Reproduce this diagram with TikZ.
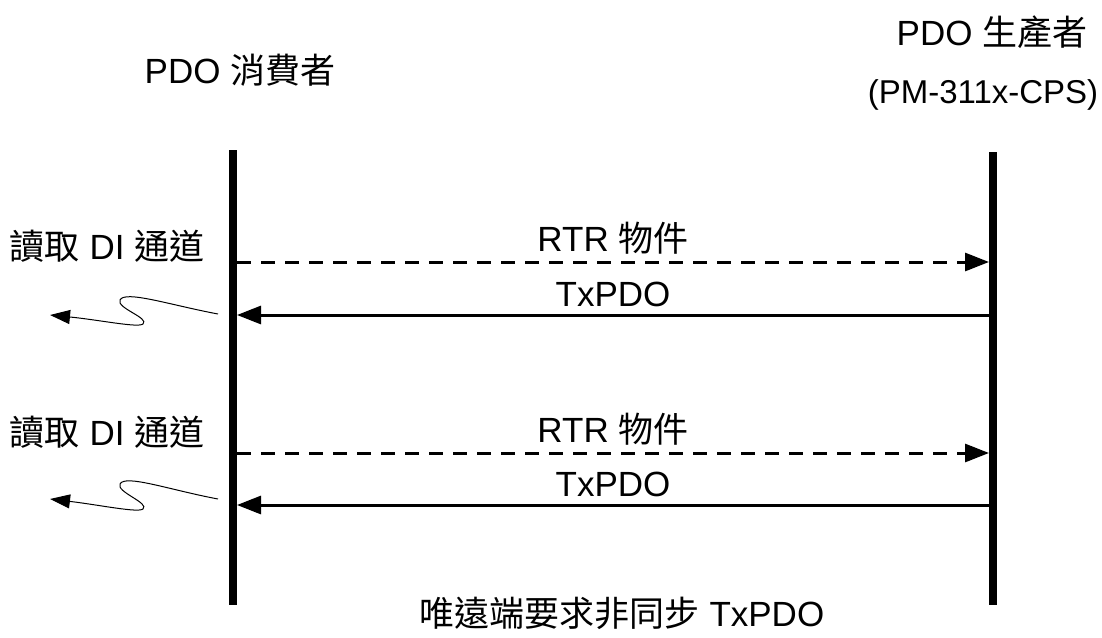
\documentclass[tikz,border=0pt]{standalone}
\usepackage{fontspec}
\setmainfont{Liberation Sans}
\newfontfamily\cjk{Noto Sans CJK TC}
\usetikzlibrary{arrows.meta,positioning}
\tikzset{
    lifeline/.style={line width=4pt},
    request/.style={dashed, line width=1.5pt, dash pattern=on 7pt off 5pt, -{Triangle[length=12pt,width=9pt]}},
    reply/.style={line width=1.5pt, -{Triangle[length=12pt,width=9pt]}},
    wiggle/.style={line width=0.5pt, -{Triangle[length=10pt,width=7pt]}},
    lbl/.style={font=\fontsize{17.5}{20}\selectfont, inner sep=1pt},
}

\begin{document}
\begin{tikzpicture}[x=0.5pt,y=-0.5pt]
   \useasboundingbox (0,0) rectangle (1102,637);
   % lifelines
   \coordinate (cons top) at (233,150);
   \coordinate (cons bot) at (233,605);
   \coordinate (prod top) at (993,152);
   \coordinate (prod bot) at (993,605);
   \draw[lifeline] (cons top) -- (cons bot);
   \draw[lifeline] (prod top) -- (prod bot);
   % headers
   \node[lbl] (cons) at (240,70) {PDO {\cjk 消費者}};
   \node[lbl] (prod) at (992,32) {PDO {\cjk 生產者}};
   \node[lbl, font=\fontsize{16.5}{20}\selectfont] (model) at (983,95) {(PM-311x-CPS)};
   % first exchange
   \coordinate (c1) at (237,262);
   \coordinate (p1) at (989,262);
   \coordinate (c2) at (237,315);
   \coordinate (p2) at (989,315);
   \draw[request] (c1) -- node[lbl, above=2pt] (rtr1) {RTR {\cjk 物件}} (p1);
   \draw[reply] (p2) -- node[lbl, above=2.5pt] (tx1) {TxPDO} (c2);
   \node[lbl] (read1) at (107,246) {{\cjk 讀取} DI {\cjk 通道}};
   \coordinate (w1) at (218,314);
   \coordinate (e1) at (50,315);
   \draw[wiggle] (w1) .. controls (170,305) and (125,290) .. (120,300)
      .. controls (116,308) and (150,318) .. (143,324)
      .. controls (138,328) and (100,320) .. (e1);
   % second exchange
   \coordinate (c3) at (237,453);
   \coordinate (p3) at (989,453);
   \coordinate (c4) at (237,505);
   \coordinate (p4) at (989,505);
   \draw[request] (c3) -- node[lbl, above=2pt] (rtr2) {RTR {\cjk 物件}} (p3);
   \draw[reply] (p4) -- node[lbl, above=2.5pt] (tx2) {TxPDO} (c4);
   \node[lbl] (read2) at (107,432) {{\cjk 讀取} DI {\cjk 通道}};
   \coordinate (w2) at (218,499);
   \coordinate (e2) at (50,499);
   \draw[wiggle] (w2) .. controls (170,490) and (125,474) .. (120,484)
      .. controls (116,492) and (150,503) .. (143,509)
      .. controls (138,513) and (100,505) .. (e2);
   % caption
   \node[lbl] (caption) at (622,613) {{\cjk 唯遠端要求非同步} TxPDO};
\end{tikzpicture}
\end{document}
